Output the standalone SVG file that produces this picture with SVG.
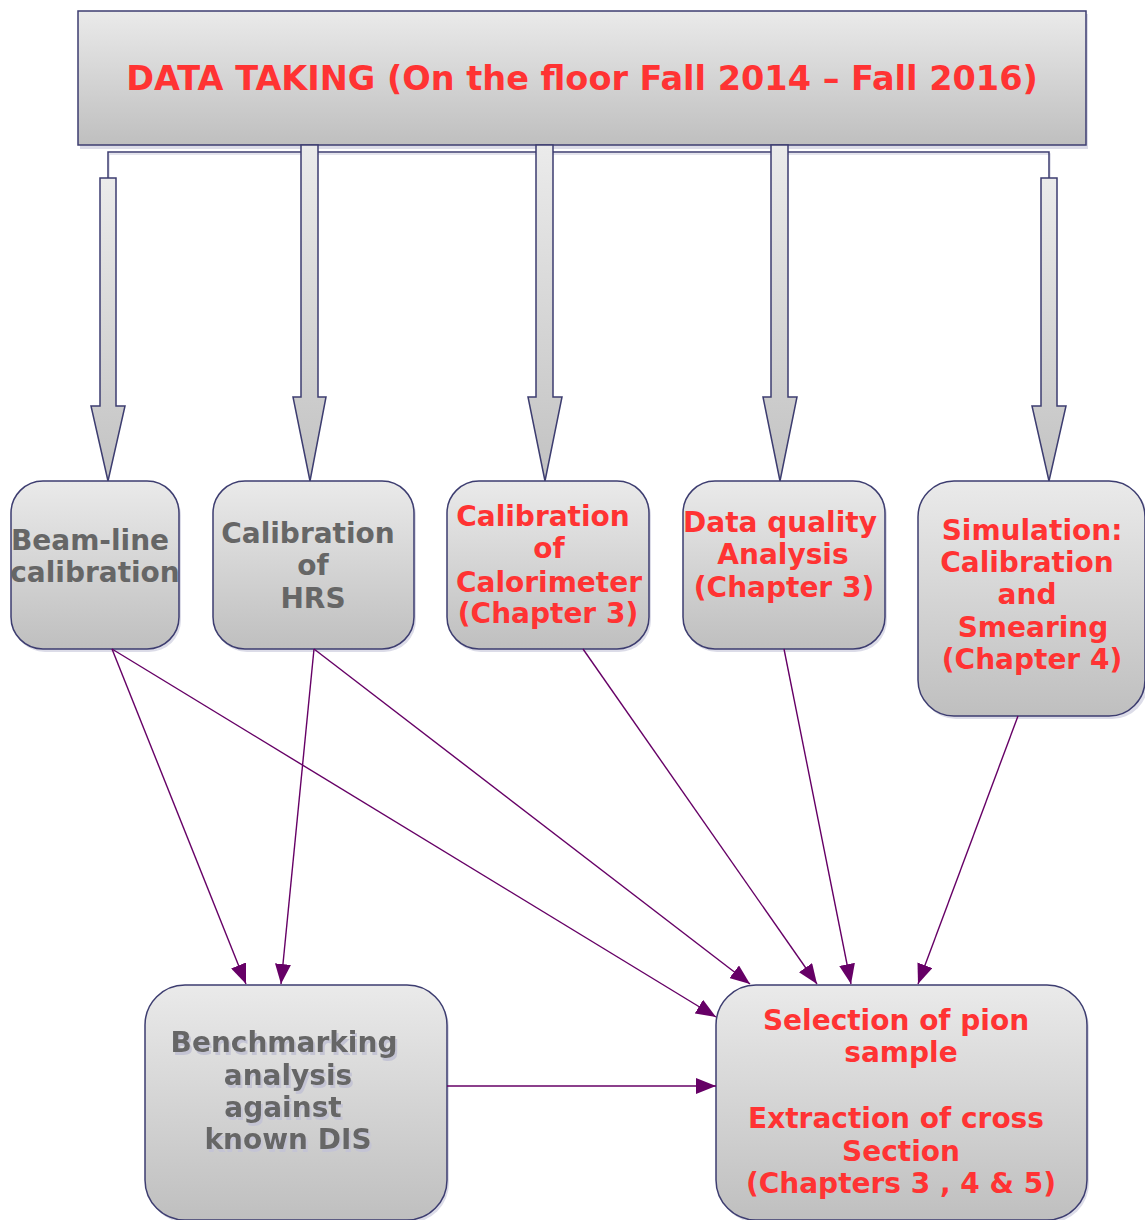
<svg xmlns="http://www.w3.org/2000/svg" width="1145" height="1220" viewBox="0 0 1145 1220">
<style>
  .box { stroke: #3d3d70; stroke-width: 1.5; fill: url(#gbox); }
  .shadow { fill: #dcdce8; stroke: none; }
  .blk { stroke: #3d3d70; stroke-width: 1.5; fill: url(#garrow); }
  .t { font-family: "DejaVu Sans", "Liberation Sans", sans-serif; font-weight: bold; font-size: 28px; text-anchor: middle; }
  .r { fill: #ff3333; }
  .g { fill: #666666; }
  .con { stroke: #660066; stroke-width: 1.4; fill: none; marker-end: url(#ah); }
</style>
<defs>
  <linearGradient id="gbox" x1="0" y1="0" x2="0" y2="1">
    <stop offset="0" stop-color="#eaeaea"/>
    <stop offset="1" stop-color="#bfbfbf"/>
  </linearGradient>
  <linearGradient id="garrow" x1="0" y1="0" x2="0" y2="1">
    <stop offset="0" stop-color="#ebebeb"/>
    <stop offset="1" stop-color="#c2c2c2"/>
  </linearGradient>
  <filter id="tshadow" x="-10%" y="-20%" width="120%" height="150%">
    <feOffset in="SourceAlpha" dx="2" dy="3" result="off"/>
    <feFlood flood-color="#c4c4d4"/>
    <feComposite in2="off" operator="in" result="sh"/>
    <feMerge>
      <feMergeNode in="sh"/>
      <feMergeNode in="SourceGraphic"/>
    </feMerge>
  </filter>
  <marker id="ah" viewBox="0 0 20 16" refX="20" refY="8" markerWidth="20" markerHeight="16" markerUnits="userSpaceOnUse" orient="auto">
    <path d="M0,0 L20,8 L0,16 z" fill="#660066"/>
  </marker>
</defs>

<rect width="1145" height="1220" fill="#ffffff"/>

<!-- Top node -->
<g id="node-data-taking">
  <rect class="shadow" x="80" y="14" width="1008" height="135"/>
  <rect class="box" x="78" y="11" width="1008" height="134"/>
  <text class="t r" x="582" y="90" style="font-size:33.5px">DATA TAKING (On the floor Fall 2014 – Fall 2016)</text>
</g>

<!-- Block arrows and elbow line from top -->
<g id="connectors-top">
  <path d="M108,178 L108,152 L1049,152 L1049,178" fill="none" stroke="#dcdce8" stroke-width="1.5" transform="translate(1,2)"/>
  <path d="M108,178 L108,152 L1049,152 L1049,178" fill="none" stroke="#3d3d70" stroke-width="1.5"/>
  <polygon class="blk" points="100,178 116,178 116,406 125,406 108,481 91,406 100,406"/>
  <polygon class="blk" points="301,145 318,145 318,397 326,397 310,481 293,397 301,397"/>
  <polygon class="blk" points="536,145 553,145 553,397 562,397 545,481 528,397 536,397"/>
  <polygon class="blk" points="771,145 788,145 788,397 797,397 780,481 763,397 771,397"/>
  <polygon class="blk" points="1041,178 1057,178 1057,406 1066,406 1049,481 1032,406 1041,406"/>
</g>

<!-- Nodes -->
<g id="node-beamline">
  <rect class="shadow" x="13" y="484" width="168" height="168" rx="32"/>
  <rect class="box" x="11" y="481" width="168" height="168" rx="32"/>
  <text class="t g" x="90" y="550">Beam-line</text>
  <text class="t g" x="95" y="582">calibration</text>
</g>

<g id="node-hrs">
  <rect class="shadow" x="215" y="484" width="201" height="168" rx="32"/>
  <rect class="box" x="213" y="481" width="201" height="168" rx="32"/>
  <text class="t g" x="308" y="543">Calibration</text>
  <text class="t g" x="313" y="575">of</text>
  <text class="t g" x="313" y="608">HRS</text>
</g>

<g id="node-calorimeter">
  <rect class="shadow" x="449" y="484" width="202" height="168" rx="32"/>
  <rect class="box" x="447" y="481" width="202" height="168" rx="32"/>
  <text class="t r" x="543" y="526">Calibration</text>
  <text class="t r" x="549" y="558">of</text>
  <text class="t r" x="549" y="592">Calorimeter</text>
  <text class="t r" x="548" y="623">(Chapter 3)</text>
</g>

<g id="node-dataquality">
  <rect class="shadow" x="685" y="484" width="202" height="168" rx="32"/>
  <rect class="box" x="683" y="481" width="202" height="168" rx="32"/>
  <text class="t r" x="780" y="532">Data quality</text>
  <text class="t r" x="783" y="564">Analysis</text>
  <text class="t r" x="784" y="597">(Chapter 3)</text>
</g>

<g id="node-simulation">
  <rect class="shadow" x="920" y="484" width="228" height="235" rx="36"/>
  <rect class="box" x="918" y="481" width="227" height="235" rx="36"/>
  <text class="t r" x="1032" y="540">Simulation:</text>
  <text class="t r" x="1027" y="572">Calibration</text>
  <text class="t r" x="1027" y="604">and</text>
  <text class="t r" x="1033" y="637">Smearing</text>
  <text class="t r" x="1032" y="669">(Chapter 4)</text>
</g>

<g id="node-benchmarking">
  <rect class="shadow" x="147" y="988" width="302" height="235" rx="40"/>
  <rect class="box" x="145" y="985" width="302" height="235" rx="40"/>
  <g filter="url(#tshadow)">
    <text class="t g" x="284" y="1052">Benchmarking</text>
    <text class="t g" x="288" y="1085">analysis</text>
    <text class="t g" x="283" y="1117">against</text>
    <text class="t g" x="288" y="1149">known DIS</text>
  </g>
</g>

<g id="node-selection">
  <rect class="shadow" x="718" y="988" width="371" height="235" rx="40"/>
  <rect class="box" x="716" y="985" width="371" height="235" rx="40"/>
  <text class="t r" x="896" y="1030">Selection of pion</text>
  <text class="t r" x="901" y="1062">sample</text>
  <text class="t r" x="896" y="1128">Extraction of cross</text>
  <text class="t r" x="901" y="1161">Section</text>
  <text class="t r" x="901" y="1193">(Chapters 3 , 4 &amp; 5)</text>
</g>

<!-- Connectors -->
<g id="connectors">
  <line class="con" x1="112" y1="649" x2="246" y2="984"/>
  <line class="con" x1="112" y1="649" x2="716" y2="1017"/>
  <line class="con" x1="314" y1="649" x2="281" y2="984"/>
  <line class="con" x1="314" y1="649" x2="750" y2="984"/>
  <line class="con" x1="583" y1="649" x2="817" y2="984"/>
  <line class="con" x1="784" y1="649" x2="851" y2="984"/>
  <line class="con" x1="1018" y1="716" x2="918" y2="984"/>
  <line class="con" x1="447" y1="1086" x2="716" y2="1086"/>
</g>
</svg>
